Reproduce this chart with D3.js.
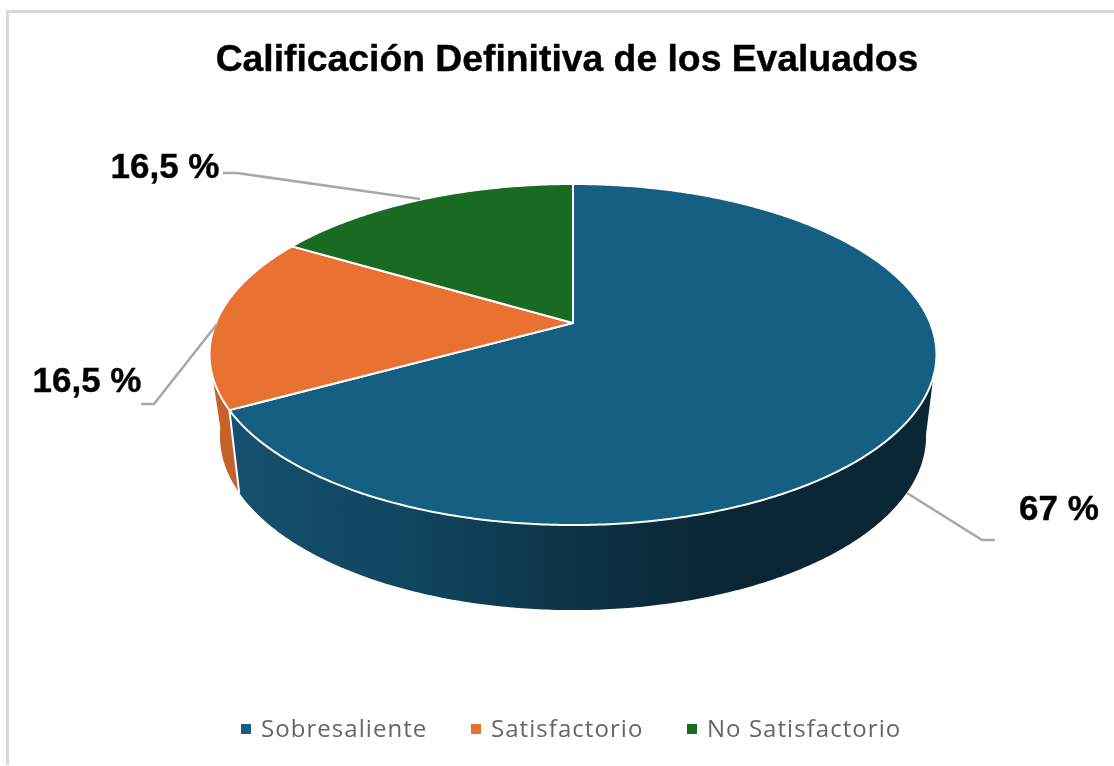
<!DOCTYPE html>
<html>
<head>
<meta charset="utf-8">
<script src="https://cdn.jsdelivr.net/npm/d3@7"></script>
<style>
  html, body { margin: 0; padding: 0; background: #fff; }
  svg { display: block; filter: blur(0.5px); }
</style>
</head>
<body>
<div id="chart"></div>
<script>
// Data
const categories = ["Sobresaliente", "Satisfactorio", "No Satisfactorio"];
const values = [67, 16.5, 16.5];
const valueLabels = ["67 %", "16,5 %", "16,5 %"];
const colors = ["#156082", "#e97132", "#196b24"];

const width = 1114;
const height = 766;

const svg = d3.select("#chart")
    .append("svg")
    .attr("width", width)
    .attr("height", height);

// frame
svg.append("path")
    .attr("d", `M7.5,${height - 1} V11.5 H${width}`)
    .attr("fill", "none")
    .attr("stroke", "#d9d9d9")
    .attr("stroke-width", 3);

svg.append("text")
    .attr("x", 567)
    .attr("y", 71)
    .attr("text-anchor", "middle")
    .attr("font-family", "Liberation Sans")
    .attr("font-weight", "bold")
    .attr("font-size", 37.3)
    .attr("fill", "#000")
    .attr("stroke", "#000")
    .attr("stroke-width", 0.4)
    .text("Calificación Definitiva de los Evaluados");

// Pie angles from d3, then a perspective tilt to get the 3D look
const arcs = d3.pie().sort(null)(values);
const tilt = 0.1848;

// top face and bottom face of the disc
const topFace = { cx: 573, cy: 323, a: 357.2, b: 164.7 };
const bottomFace = { cx: 573, cy: 404, a: 347, b: 168 };

function project(face, angle) {
    const x = Math.sin(angle);
    const y = -Math.cos(angle);
    const d = 1 - tilt * y;
    return [face.cx + face.a * x / d, face.cy + face.b * y / d];
}

function rimPoints(face, a0, a1) {
    const n = Math.max(2, Math.ceil(Math.abs(a1 - a0) / 0.01));
    return d3.range(n + 1).map(i => project(face, a0 + (a1 - a0) * i / n));
}

const line = d3.line();
const deg = Math.PI / 180;

const defs = svg.append("defs");
const wallGrad = defs.append("linearGradient")
    .attr("id", "wall-blue")
    .attr("gradientUnits", "userSpaceOnUse")
    .attr("x1", 232).attr("x2", 934)
    .attr("y1", 0).attr("y2", 0);
wallGrad.append("stop").attr("offset", "0").attr("stop-color", "#15506e");
wallGrad.append("stop").attr("offset", "0.25").attr("stop-color", "#10465f");
wallGrad.append("stop").attr("offset", "0.55").attr("stop-color", "#0b2f41");
wallGrad.append("stop").attr("offset", "0.7").attr("stop-color", "#0a2634");
wallGrad.append("stop").attr("offset", "1").attr("stop-color", "#0b2735");

// side walls, only the parts that face the viewer
const walls = [
    { fill: "url(#wall-blue)", top: [108 * deg, arcs[0].endAngle], bottom: [100 * deg, arcs[0].endAngle] },
    { fill: "#c4622a", top: [arcs[1].startAngle, 252 * deg], bottom: [arcs[1].startAngle, 262 * deg] }
];

svg.selectAll("path.wall")
    .data(walls)
    .enter()
    .append("path")
    .attr("class", "wall")
    .attr("fill", d => d.fill)
    .attr("stroke", "none")
    .attr("d", d => line(rimPoints(topFace, d.top[0], d.top[1])
        .concat(rimPoints(bottomFace, d.bottom[1], d.bottom[0]))) + "Z");

// white seam between the two walls
svg.append("line")
    .attr("x1", project(topFace, arcs[0].endAngle)[0])
    .attr("y1", project(topFace, arcs[0].endAngle)[1])
    .attr("x2", project(bottomFace, arcs[0].endAngle)[0])
    .attr("y2", project(bottomFace, arcs[0].endAngle)[1])
    .attr("stroke", "#fff")
    .attr("stroke-width", 2);

// top slices
svg.selectAll("path.slice")
    .data(arcs)
    .enter()
    .append("path")
    .attr("class", "slice")
    .attr("fill", (d, i) => colors[i])
    .attr("stroke", "#fff")
    .attr("stroke-width", 2)
    .attr("stroke-linejoin", "round")
    .attr("d", d => line([[topFace.cx, topFace.cy]]
        .concat(rimPoints(topFace, d.startAngle, d.endAngle))) + "Z");

// leader lines and value labels
const leaders = [
    [[907, 493], [982, 540], [995, 540]],
    [[217, 324], [154, 404], [141, 404]],
    [[420, 199], [237, 173], [223, 173]]
];
const labelSpots = [[1059, 520], [87, 392], [165, 178]];

svg.selectAll("path.leader")
    .data(leaders)
    .enter()
    .append("path")
    .attr("class", "leader")
    .attr("fill", "none")
    .attr("stroke", "#a8a8a8")
    .attr("stroke-width", 2.5)
    .attr("d", line);

svg.selectAll("text.value")
    .data(valueLabels)
    .enter()
    .append("text")
    .attr("class", "value")
    .attr("x", (d, i) => labelSpots[i][0])
    .attr("y", (d, i) => labelSpots[i][1])
    .attr("text-anchor", "middle")
    .attr("font-family", "Liberation Sans")
    .attr("font-weight", "bold")
    .attr("font-size", 35)
    .attr("fill", "#000")
    .attr("stroke", "#000")
    .attr("stroke-width", 0.4)
    .text(d => d);

// legend
const legendX = [241, 471, 687];
const legend = svg.selectAll("g.legend")
    .data(categories)
    .enter()
    .append("g")
    .attr("class", "legend")
    .attr("transform", (d, i) => `translate(${legendX[i]},729)`);

legend.append("rect")
    .attr("x", 0)
    .attr("y", -5)
    .attr("width", 10)
    .attr("height", 10)
    .attr("fill", (d, i) => colors[i]);

legend.append("text")
    .attr("x", 20)
    .attr("y", 8)
    .attr("font-family", "Open Sans")
    .attr("font-size", 24)
    .attr("letter-spacing", 1.05)
    .attr("fill", "#666")
    .text(d => d);
</script>
</body>
</html>
